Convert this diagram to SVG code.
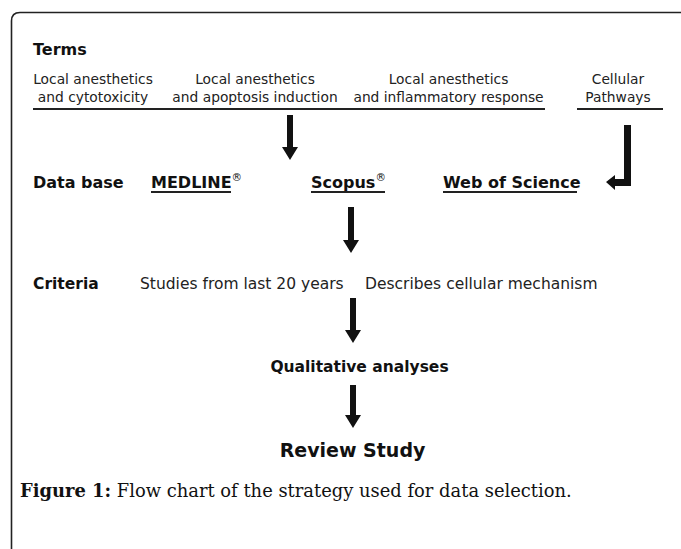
<svg xmlns="http://www.w3.org/2000/svg" width="681" height="549" viewBox="0 0 681 549">
<style>
.h{font-family:"DejaVu Sans",Verdana,sans-serif;font-weight:bold;fill:#111}
.t{font-family:"DejaVu Sans",Verdana,sans-serif;fill:#222;font-size:13.8px;text-anchor:middle}
.c{font-family:"DejaVu Sans",Verdana,sans-serif;fill:#222;font-size:15.5px}
.db{font-family:"DejaVu Sans",Verdana,sans-serif;font-weight:bold;fill:#111;font-size:16px}
.sup{font-size:10.5px;font-weight:normal}
.rule{stroke:#222;stroke-width:2;fill:none}
.ul{stroke:#222;stroke-width:1.8;fill:none}
.arrow{fill:#111}
.cap{font-family:"DejaVu Serif","Liberation Serif",serif;font-size:17.9px;fill:#111}
</style>
<rect width="681" height="549" fill="#fff"/>
<path d="M11.5 549 V21 Q11.5 12.5 20 12.5 H681" fill="none" stroke="#222" stroke-width="1.6"/>

<g id="terms">
<text class="h" x="33" y="55" font-size="16px">Terms</text>
</g>
<g id="term1">
<text class="t" x="93" y="84">Local anesthetics</text>
<text class="t" x="93" y="102">and cytotoxicity</text>
</g>
<g id="term2">
<text class="t" x="255" y="84">Local anesthetics</text>
<text class="t" x="255" y="102">and apoptosis induction</text>
</g>
<g id="term3">
<text class="t" x="448.5" y="84">Local anesthetics</text>
<text class="t" x="448.5" y="102">and inflammatory response</text>
</g>
<g id="term4">
<text class="t" x="618" y="84">Cellular</text>
<text class="t" x="618" y="102">Pathways</text>
</g>
<g id="term-rules">
<line class="rule" x1="33" y1="109" x2="545" y2="109"/>
<line class="rule" x1="577" y1="109" x2="663" y2="109"/>
</g>

<g id="database">
<text class="db" x="33" y="187.5">Data base</text>
</g>
<g id="medline">
<text class="db" x="151" y="187.5">MEDLINE<tspan class="sup" dy="-7">®</tspan></text>
<line class="ul" x1="151" y1="192" x2="231" y2="192"/>
</g>
<g id="scopus">
<text class="db" x="311" y="187.5">Scopus<tspan class="sup" dy="-7">®</tspan></text>
<line class="ul" x1="311" y1="192" x2="385" y2="192"/>
</g>
<g id="wos">
<text class="db" x="443" y="187.5">Web of Science</text>
<line class="ul" x1="443" y1="192" x2="577" y2="192"/>
</g>

<g id="criteria">
<text class="h" x="33" y="289" font-size="15.5px">Criteria</text>
</g>
<g id="crit1">
<text class="c" x="140" y="289">Studies from last 20 years</text>
</g>
<g id="crit2">
<text class="c" x="365" y="289">Describes cellular mechanism</text>
</g>

<g id="qualitative">
<text class="h" x="359.5" y="372" font-size="15.5px" text-anchor="middle">Qualitative analyses</text>
</g>
<g id="review">
<text class="h" x="352.5" y="457" font-size="19px" text-anchor="middle" fill="#1a1a1a">Review Study</text>
</g>

<g id="connectors">
<path class="arrow" d="M287 115 H293 V147 H298 L290 160 L282 147 H287 Z"/>
<path class="arrow" d="M348 207 H354 V240 H359 L351 253 L343 240 H348 Z"/>
<path class="arrow" d="M350 298 H356 V330 H361 L353 343 L345 330 H350 Z"/>
<path class="arrow" d="M350 385 H356 V415 H361 L353 428 L345 415 H350 Z"/>
<path class="arrow" d="M624 125 H631 V186 H615 V190 L606 182 L615 175 V179 H624 Z"/>
</g>

<g id="caption">
<text class="cap" x="20" y="497"><tspan font-weight="bold">Figure 1:</tspan> Flow chart of the strategy used for data selection.</text>
</g>
</svg>
